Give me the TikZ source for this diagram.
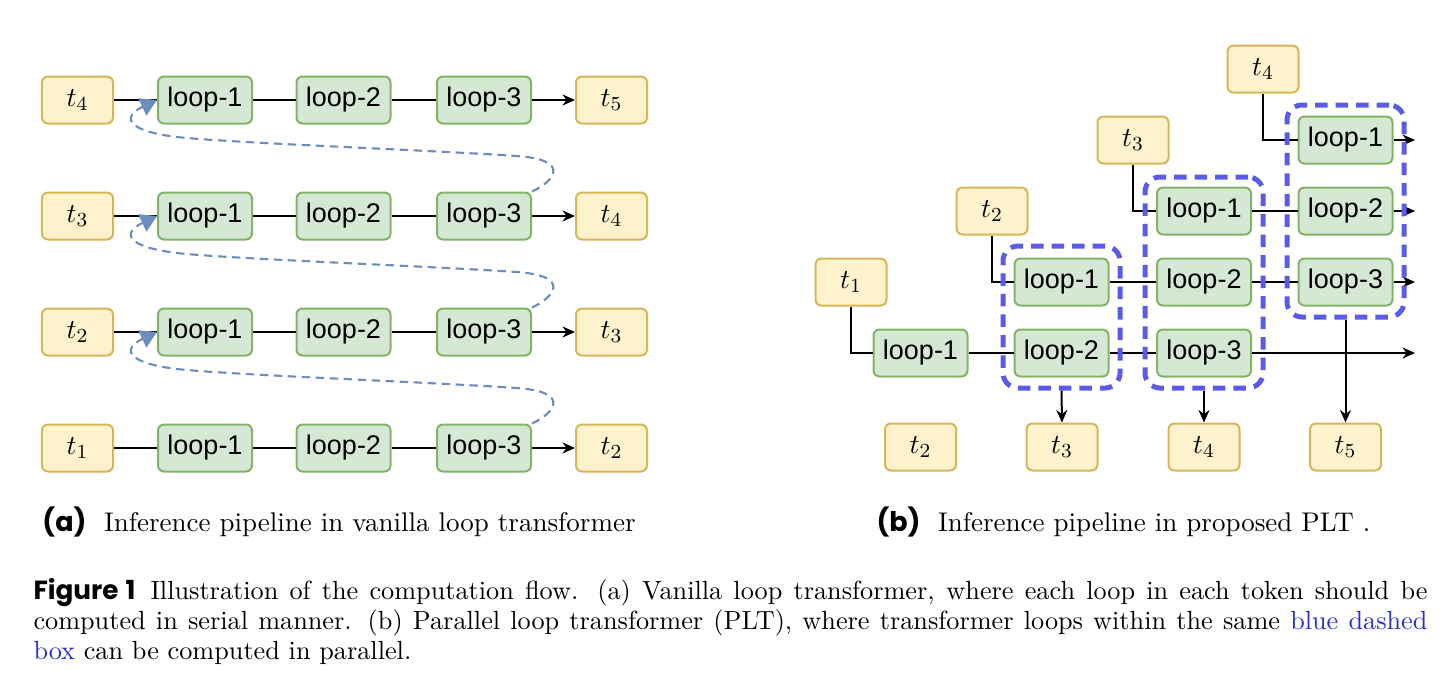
\documentclass[tikz,border=0pt]{standalone}
\usepackage{fontspec}
\newfontfamily\labfont{Liberation Sans}
\newfontfamily\capfont{Poppins}
\usetikzlibrary{arrows.meta,calc}
\definecolor{yfill}{HTML}{FFF2CC}
\definecolor{ydraw}{HTML}{D6B656}
\definecolor{gfill}{HTML}{D5E8D4}
\definecolor{gdraw}{HTML}{82B366}
\definecolor{bdash}{HTML}{6C8EBF}
\definecolor{vdash}{HTML}{5B5BEA}
\definecolor{linkblue}{HTML}{2B2BD9}
\begin{document}
\begin{tikzpicture}[x=0.4pt,y=-0.4pt,
 tbox/.style={draw=ydraw,fill=yfill,line width=0.8pt,rounded corners=2.4pt,minimum width=28.4pt,minimum height=18.8pt,inner sep=0pt,font=\fontsize{11}{13}\selectfont},
 lbox/.style={draw=gdraw,fill=gfill,line width=0.8pt,rounded corners=2.4pt,minimum width=37.6pt,minimum height=18.8pt,inner sep=0pt,font=\labfont\fontsize{10.8}{13}\selectfont},
 conn/.style={line width=0.8pt,black},
 arr/.style={conn,-{Stealth[length=5pt,width=4.4pt]}},
 back/.style={bdash,line width=0.85pt,dash pattern=on 3.4pt off 2.2pt,-{Triangle[length=6.5pt,width=7.5pt]}},
 grp/.style={draw=vdash,line width=2pt,dash pattern=on 5pt off 3.2pt,rounded corners=6pt,inner sep=0pt},
 subcap/.style={anchor=base west,inner sep=0pt,font=\fontsize{10.8}{13}\selectfont},
]
\path[use as bounding box] (0,0) rectangle (1456,683);

% ---------- (a) vanilla loop transformer ----------
\foreach \r/\y/\a/\b in {1/100/4/5,2/216/3/4,3/332/2/3,4/448/1/2}{
  \node[tbox] (T\r) at (77.5,\y) {$t_{\a}$};
  \node[lbox] (A\r) at (205,\y) {loop-1};
  \node[lbox] (B\r) at (343.5,\y) {loop-2};
  \node[lbox] (C\r) at (484,\y) {loop-3};
  \node[tbox] (O\r) at (611.5,\y) {$t_{\b}$};
  \draw[conn] (T\r) -- (A\r);
  \draw[conn] (A\r) -- (B\r);
  \draw[conn] (B\r) -- (C\r);
  \draw[arr] (C\r) -- (O\r);
}
\foreach \u/\d in {1/2,2/3,3/4}{
  \draw[back] (C\d.north east)
    .. controls ($(A\u.west)+(396,82)$) and ($(A\u.west)+(416,60)$) .. ($(A\u.west)+(360,56)$)
    .. controls ($(A\u.west)+(270,50)$) and ($(A\u.west)+(100,44)$) .. ($(A\u.west)+(30,38)$)
    .. controls ($(A\u.west)+(-28,33)$) and ($(A\u.west)+(-38,18)$) .. (A\u.west);
}

% ---------- (b) PLT ----------
\node[tbox] (R1) at (851,282) {$t_1$};
\node[tbox] (R2) at (992,211) {$t_2$};
\node[tbox] (R3) at (1133,140) {$t_3$};
\node[tbox] (R4) at (1263,69) {$t_4$};

\node[lbox] (P11) at (920.5,353) {loop-1};
\node[lbox] (P12) at (1061.5,353) {loop-2};
\node[lbox] (P13) at (1204,353) {loop-3};
\node[lbox] (P21) at (1061.5,282) {loop-1};
\node[lbox] (P22) at (1204,282) {loop-2};
\node[lbox] (P23) at (1345.5,282) {loop-3};
\node[lbox] (P31) at (1204,211) {loop-1};
\node[lbox] (P32) at (1345.5,211) {loop-2};
\node[lbox] (P41) at (1345.5,140) {loop-1};

\node[tbox] (S2) at (920.5,447) {$t_2$};
\node[tbox] (S3) at (1062,447) {$t_3$};
\node[tbox] (S4) at (1204,447) {$t_4$};
\node[tbox] (S5) at (1345.5,447) {$t_5$};

\coordinate (E1) at (1415,353);
\coordinate (E2) at (1415,282);
\coordinate (E3) at (1415,211);
\coordinate (E4) at (1415,140);

\draw[conn] (R1.south) |- (P11.west);
\draw[conn] (P11) -- (P12);
\draw[conn] (P12) -- (P13);
\draw[arr] (P13) -- (E1);
\draw[conn] (R2.south) |- (P21.west);
\draw[conn] (P21) -- (P22);
\draw[conn] (P22) -- (P23);
\draw[arr] (P23) -- (E2);
\draw[conn] (R3.south) |- (P31.west);
\draw[conn] (P31) -- (P32);
\draw[arr] (P32) -- (E3);
\draw[conn] (R4.south) |- (P41.west);
\draw[arr] (P41) -- (E4);

\node[grp,minimum width=46.8pt,minimum height=56.8pt] (G1) at (1061.5,317) {};
\node[grp,minimum width=47.2pt,minimum height=84.4pt] (G2) at (1204,282.5) {};
\node[grp,minimum width=46.8pt,minimum height=84.8pt] (G3) at (1345.5,211) {};

\draw[arr] (G1.south) -- (S3.north);
\draw[arr] (G2.south) -- (S4.north);
\draw[arr] (G3.south) -- (S5.north);

% ---------- captions ----------
\node[subcap] (capa) at (42,531) {{\capfont\bfseries (a)}\hskip 7pt Inference pipeline in vanilla loop transformer};
\node[subcap] (capb) at (876,531) {{\capfont\bfseries (b)}\hskip 7pt Inference pipeline in proposed PLT .};

\node[anchor=base west,inner sep=0pt,text width=557.6pt,align=justify,font=\fontsize{10.5}{12}\selectfont] (fig) at (33,599)
 {{\capfont\bfseries Figure 1}\hskip 6pt Illustration of the computation flow. (a) Vanilla loop transformer, where each loop in each token should be\linebreak
 computed in serial manner. (b) Parallel loop transformer (PLT), where transformer loops within the same \textcolor{linkblue}{blue dashed}\linebreak
 \textcolor{linkblue}{box} can be computed in parallel.};
\end{tikzpicture}
\end{document}
